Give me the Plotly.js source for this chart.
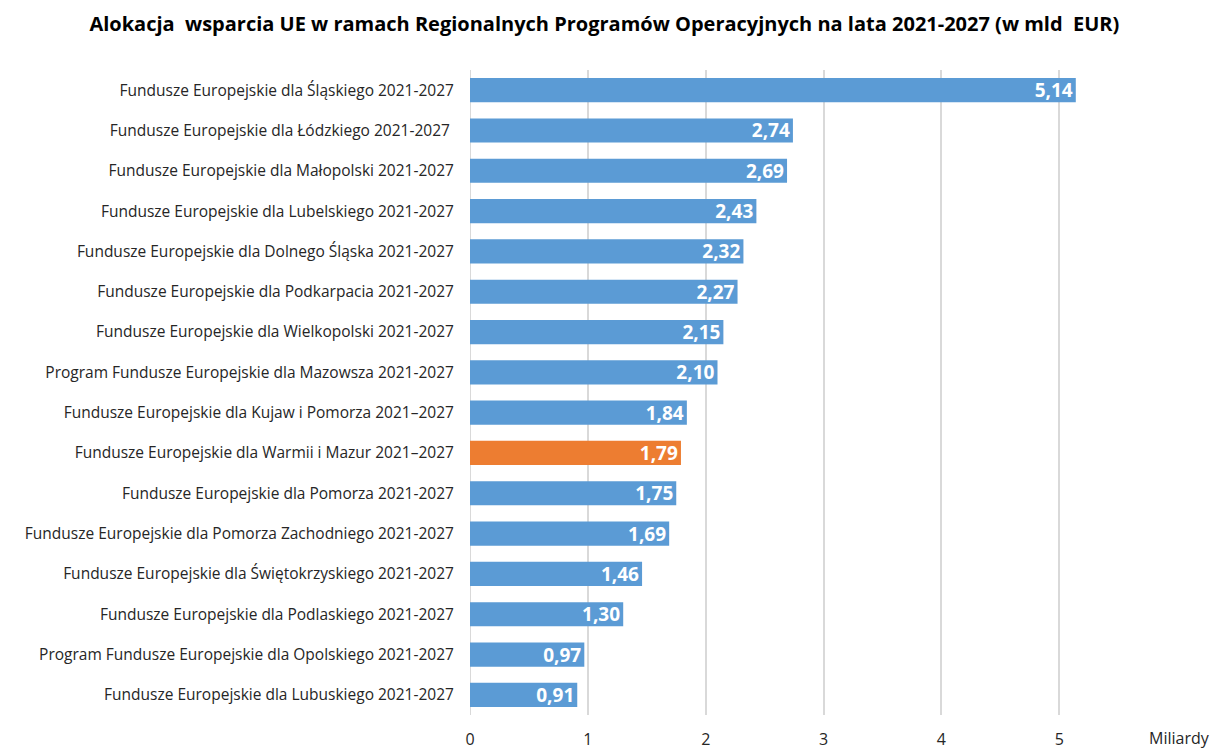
<!DOCTYPE html>
<html><head><meta charset="utf-8">
<script src="https://cdn.plot.ly/plotly-3.0.1.min.js"></script>
<style>body{margin:0;background:#fff}#c{width:1216px;height:749px}</style>
</head><body><div id="c"></div>
<script>
const programs = [
 "Fundusze Europejskie dla Śląskiego 2021-2027",
 "Fundusze Europejskie dla Łódzkiego 2021-2027 ",
 "Fundusze Europejskie dla Małopolski 2021-2027",
 "Fundusze Europejskie dla Lubelskiego 2021-2027",
 "Fundusze Europejskie dla Dolnego Śląska 2021-2027",
 "Fundusze Europejskie dla Podkarpacia 2021-2027",
 "Fundusze Europejskie dla Wielkopolski 2021-2027",
 "Program Fundusze Europejskie dla Mazowsza 2021-2027",
 "Fundusze Europejskie dla Kujaw i Pomorza 2021–2027",
 "Fundusze Europejskie dla Warmii i Mazur 2021–2027",
 "Fundusze Europejskie dla Pomorza 2021-2027",
 "Fundusze Europejskie dla Pomorza Zachodniego 2021-2027",
 "Fundusze Europejskie dla Świętokrzyskiego 2021-2027",
 "Fundusze Europejskie dla Podlaskiego 2021-2027",
 "Program Fundusze Europejskie dla Opolskiego 2021-2027",
 "Fundusze Europejskie dla Lubuskiego 2021-2027"
];
const allocation = [5.14, 2.74, 2.69, 2.43, 2.32, 2.27, 2.15, 2.10, 1.84, 1.79, 1.75, 1.69, 1.46, 1.30, 0.97, 0.91];
const highlighted = "Fundusze Europejskie dla Warmii i Mazur 2021–2027";
const xTicks = [0, 1, 2, 3, 4, 5];

const colors = programs.map(p => p === highlighted ? "#ED7D31" : "#5B9BD5");
const labels = allocation.map(v => v.toFixed(2).replace(".", ","));

const trace = {
  type: "bar", orientation: "h",
  y: programs, x: allocation,
  marker: {color: colors},
  text: labels, textposition: "inside", insidetextanchor: "end",
  textfont: {family: "Open Sans", size: 19, color: "#fff", weight: "bold"},
  hoverinfo: "x+y", cliponaxis: false, constraintext: "none"
};

const layout = {
  width: 1216, height: 749,
  margin: {l: 470, r: 86, t: 70, b: 34},
  paper_bgcolor: "#fff", plot_bgcolor: "#fff",
  font: {family: "Open Sans", color: "#262626"},
  bargap: 0.4,
  showlegend: false,
  title: {text: "Alokacja  wsparcia UE w ramach Regionalnych Programów Operacyjnych na lata 2021-2027 (w mld  EUR)",
          font: {family: "Open Sans", size: 20, color: "#000", weight: "bold"},
          x: 0.497, xanchor: "center", y: 0.968, yanchor: "middle"},
  xaxis: {range: [0, 5.6], tickvals: xTicks, ticktext: xTicks.map(String),
          showgrid: true, gridcolor: "#D9D9D9", gridwidth: 2,
          zeroline: false, showline: false, ticks: "outside", ticklen: 10, tickcolor: "rgba(0,0,0,0)",
          tickfont: {family: "Open Sans", size: 16, color: "#262626"}, fixedrange: true},
  yaxis: {autorange: "reversed", type: "category", showgrid: false, zeroline: false,
          showline: false, ticks: "outside", ticklen: 12, tickcolor: "rgba(0,0,0,0)",
          tickfont: {family: "Open Sans", size: 15.5, color: "#262626"}},
  shapes: [{type: "line", xref: "x", yref: "paper", x0: 0, x1: 0, y0: 0, y1: 1,
            line: {color: "#D9D9D9", width: 2}, layer: "below"}],
  annotations: [{text: "Miliardy", xref: "paper", yref: "paper", x: 1.124, y: 0, yshift: -23,
                 xanchor: "right", yanchor: "middle", showarrow: false,
                 font: {family: "Open Sans", size: 16, color: "#262626"}}]
};
Plotly.newPlot("c", [trace], layout, {displayModeBar: false, staticPlot: true});
</script></body></html>
